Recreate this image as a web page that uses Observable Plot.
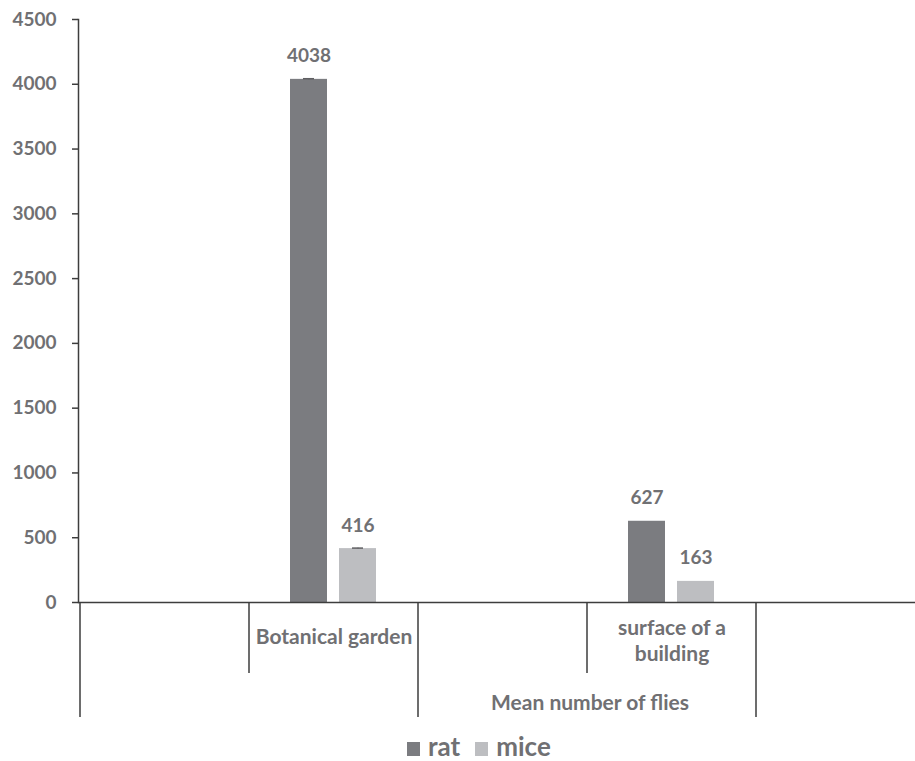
<!DOCTYPE html>
<html>
<head>
<meta charset="utf-8">
<script src="https://cdn.jsdelivr.net/npm/d3@7"></script>
<script src="https://cdn.jsdelivr.net/npm/@observablehq/plot@0.6"></script>
<style>
  body { margin: 0; background: #fff; font-family: Lato, "Open Sans", sans-serif; }
  #chart svg { display: block; }
  #legend { display: flex; align-items: baseline; padding-left: 407px; height: 39px; box-sizing: border-box; padding-top: 10px; font-weight: bold; font-size: 26px; line-height: 28px; color: #707073; }
  #legend .item { display: flex; align-items: baseline; margin-right: 15px; }
  #legend .sw { display: inline-block; width: 13px; height: 14px; margin-right: 8px; }
</style>
</head>
<body>
<div id="chart"></div>
<div id="legend"></div>
<script>
// ---- data ----
const axisCategories = ["(blank 1)", "Botanical garden", "(blank 2)", "surface of a building"];
const sites = ["Botanical garden", "surface of a building"];
const seriesNames = ["rat", "mice"];
const ratValues = [4038, 627];
const miceValues = [416, 163];
const ratErrors = [5, 0];
const miceErrors = [4, 0];
const yTicks = [0, 500, 1000, 1500, 2000, 2500, 3000, 3500, 4000, 4500];
const groupLabels = ["", "Mean number of flies"]; // each spans two categories

// ---- build ----
const colors = {rat: "#7b7c80", mice: "#bdbec1"};
const textColor = "#707073";
const lineColor = "#3d3d3d";

const rows = [];
sites.forEach((s, i) => {
  rows.push({site: s, series: "rat", value: ratValues[i], err: ratErrors[i]});
  rows.push({site: s, series: "mice", value: miceValues[i], err: miceErrors[i]});
});
const rat = rows.filter(d => d.series === "rat");
const mice = rows.filter(d => d.series === "mice");

const W = 915, H = 722;
const chart = Plot.plot({
  width: W,
  height: H,
  marginTop: 19,
  marginBottom: 120,
  marginLeft: 78,
  marginRight: 0,
  style: {fontFamily: "Lato, 'Open Sans', sans-serif", fontWeight: "bold", fontSize: "19px", color: textColor, background: "#fff"},
  x: {domain: axisCategories, range: [78, 757], padding: 0, axis: null},
  y: {domain: [0, 4500], ticks: yTicks, axis: null},
  marks: [
    Plot.axisY({ticks: yTicks, label: null, tickSize: 6, tickPadding: 16, tickFormat: d3.format("d"), stroke: lineColor, strokeWidth: 1.5, fill: textColor, fontSize: 19, fontWeight: "bold"}),
    Plot.frame({anchor: "left", stroke: lineColor, strokeWidth: 1.5}),
    Plot.barY(rat, {x: "site", y: "value", fill: colors.rat, insetLeft: 41, insetRight: 91}),
    Plot.barY(mice, {x: "site", y: "value", fill: colors.mice, insetLeft: 90, insetRight: 42}),
    // error bars
    Plot.ruleX(rat.filter(d => d.err > 0), {x: "site", y1: d => d.value - d.err, y2: d => d.value + d.err, dx: -25, stroke: "#5f5f62"}),
    Plot.tickY(rat.filter(d => d.err > 0), {x: "site", y: d => d.value + d.err, insetLeft: 54, insetRight: 104, stroke: "#5f5f62", strokeWidth: 1.5}),
    Plot.ruleX(mice.filter(d => d.err > 0), {x: "site", y1: d => d.value - d.err, y2: d => d.value + d.err, dx: 24, stroke: "#5f5f62"}),
    Plot.tickY(mice.filter(d => d.err > 0), {x: "site", y: d => d.value + d.err, insetLeft: 103, insetRight: 55, stroke: "#5f5f62", strokeWidth: 1.5}),
    // value labels
    Plot.text(rat, {x: "site", y: "value", text: d => String(d.value), dx: -25, dy: -23, fill: textColor, fontSize: 19, fontWeight: "bold"}),
    Plot.text(mice, {x: "site", y: "value", text: d => String(d.value), dx: 24, dy: -23, fill: textColor, fontSize: 19, fontWeight: "bold"}),
    // baseline
    Plot.ruleY([0], {stroke: lineColor, strokeWidth: 1.5}),
    // category labels (the second one wraps in the reference)
    Plot.text(sites.slice(0, 1), {x: d => d, y: () => 0, text: d => d, dy: 35, fill: textColor, fontSize: 21, fontWeight: "bold"}),
    Plot.text(sites.slice(1), {x: d => d, y: () => 0, text: d => d, dy: 37, lineWidth: 7.5, lineHeight: 1.25, fill: textColor, fontSize: 21, fontWeight: "bold"})
  ]
});

// category separators & group label (multi-level axis) via the plot's own scales
const xs = chart.scale("x");
const ys = chart.scale("y");
const bw = xs.bandwidth;
const y0 = ys.apply(0);
const svg = d3.select(chart);
const g = svg.append("g").attr("stroke", lineColor).attr("stroke-width", 1.5);
const starts = axisCategories.map(c => xs.apply(c));
const bounds = [...starts, starts[starts.length - 1] + bw];
bounds.forEach((bx, i) => {
  const long = i % 2 === 0;
  g.append("line").attr("x1", bx).attr("x2", bx).attr("y1", y0).attr("y2", y0 + (long ? 115 : 71));
});
groupLabels.forEach((lab, i) => {
  if (!lab) return;
  const cx = (bounds[i * 2] + bounds[i * 2 + 2]) / 2 + 3;
  svg.append("text").attr("x", cx).attr("y", y0 + 108).attr("text-anchor", "middle")
    .attr("fill", textColor).attr("font-size", 21).attr("font-weight", "bold").text(lab);
});

document.getElementById("chart").appendChild(chart);

// legend
const legend = document.getElementById("legend");
seriesNames.forEach(s => {
  const item = document.createElement("span");
  item.className = "item";
  const sw = document.createElement("span");
  sw.className = "sw";
  sw.style.background = colors[s];
  item.appendChild(sw);
  item.appendChild(document.createTextNode(s));
  legend.appendChild(item);
});
</script>
</body>
</html>
